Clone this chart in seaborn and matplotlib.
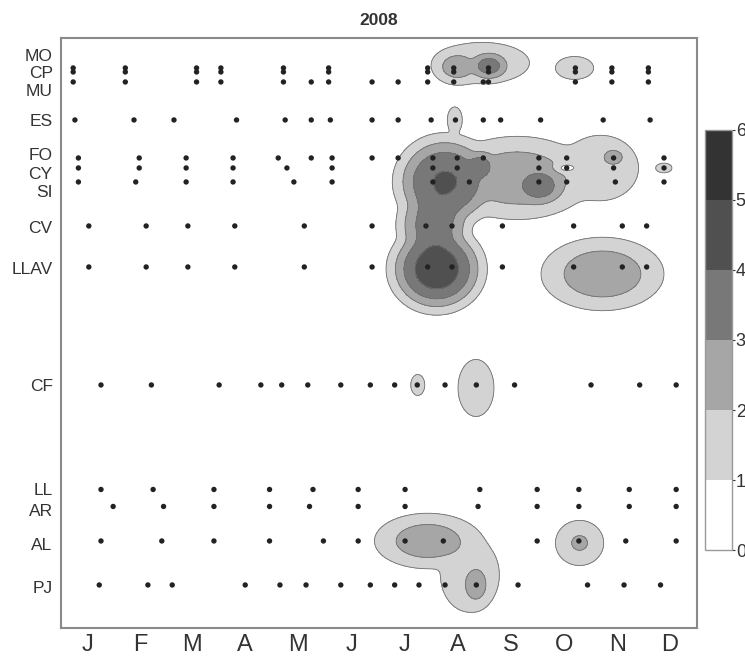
import numpy as np
import pandas as pd
import matplotlib
matplotlib.use("Agg")
import matplotlib.pyplot as plt
import seaborn as sns

sns.set_style("white")
plt.rcParams['font.family'] = ['Liberation Sans', 'DejaVu Sans']

# ---- stations (y axis) ----
station_labels = ["MO", "CP", "MU", "ES", "FO", "CY", "SI", "CV", "LLAV", "CF", "LL", "AR", "AL", "PJ"]
label_pos = [55, 72, 90, 120, 154, 173, 191, 227, 268, 385, 489, 510, 544, 587]
row_pos = [68, 72, 82, 120, 158, 168, 182, 226, 267, 385, 489.5, 506.5, 541, 585]

# ---- sampling days (day of year 2008) per station ----
days_MO = [7, 37, 78, 92, 128, 154, 211, 226, 246, 296, 317, 338]
days_CP = [7, 37, 78, 92, 128, 154, 211, 226, 246, 296, 317, 338]
days_MU = [7, 37, 78, 92, 128, 144, 154, 179, 194, 211, 226, 243, 246, 296, 317, 338]
days_ES = [8, 42, 65, 101, 129, 144, 155, 179, 194, 213, 227, 243, 253, 276, 312, 339]
days_FO = [10, 45, 72, 99, 125, 144, 156, 179, 194, 214, 228, 243, 275, 291, 318, 347]
days_CY = [10, 45, 72, 99, 130, 156, 214, 228, 275, 291, 318, 347]
days_SI = [10, 43, 72, 99, 134, 156, 214, 235, 275, 291, 319, 347]
days_CV = [16, 49, 73, 100, 140, 179, 210, 225, 254, 295, 323, 337]
days_LLAV = [16, 49, 73, 100, 140, 179, 211, 225, 254, 295, 323, 337]
days_CF = [23, 52, 91, 115, 127, 142, 161, 178, 192, 205, 221, 239, 261, 305, 333, 354]
days_LL = [23, 53, 88, 120, 145, 171, 198, 241, 274, 298, 327, 354]
days_AR = [30, 59, 88, 120, 143, 171, 198, 240, 274, 298, 327, 354]
days_AL = [23, 58, 88, 120, 151, 171, 198, 220, 274, 298, 325, 354]
days_PJ = [22, 50, 64, 106, 126, 141, 161, 178, 192, 206, 221, 239, 263, 303, 324, 345]
station_days = [days_MO, days_CP, days_MU, days_ES, days_FO, days_CY, days_SI, days_CV,
                days_LLAV, days_CF, days_LL, days_AR, days_AL, days_PJ]

# ---- abundance peaks ----
peak_day = [216.2, 220.8, 214.5, 262.5, 275.2, 310.5, 318.0, 226.6, 346.9,
            246.3, 242.3, 227.8, 295.5, 311.6, 205.3, 238.8, 211.0, 238.8, 235.3, 298.4,
            241.5]
peak_pos = [269, 182, 225, 178, 186, 168, 157, 120, 168,
            66, 63, 67, 68, 274, 385, 388, 541, 585, 575, 543,
            166]
peak_val = [4.5, 4.05, 3.4, 2.5, 3.3, 1.7, 2.3, 1.5, 1.3,
            3.3, 1.6, 2.3, 1.6, 2.5, 1.4, 1.8, 2.4, 2.3, 1.6, 2.05,
            3.2]
spread_day = [20.2, 21.4, 16.2, 34.7, 12.1, 21.4, 6.4, 4.6, 5.8,
              9.8, 27.8, 11.6, 11.2, 28.9, 4.6, 9.8, 25.4, 7.5, 17.3, 12.3,
              7.5]
spread_pos = [32, 35, 30, 34, 16, 32, 8.5, 14, 6,
              12, 21, 15, 11.7, 30, 12, 27, 23, 19, 38, 20,
              13]
# local minimum (white eye)
dip_day, dip_pos, dip_depth, dip_sd, dip_sp = 291.1, 168, 0.7, 4.0, 3.0

months = ["J", "F", "M", "A", "M", "J", "J", "A", "S", "O", "N", "D"]
month_edges = [0, 31, 60, 91, 121, 152, 182, 213, 244, 274, 305, 335, 366]

levels = [0, 1, 2, 3, 4, 5, 6]
fill_colors = ['#ffffff', '#d3d3d3', '#a6a6a6', '#787878', '#505050', '#333333']

# ---- field ----
gx = np.linspace(0, 366, 500)
gy = np.linspace(38, 628, 500)
X, Y = np.meshgrid(gx, gy)
acc = np.zeros_like(X)
for d0, p0, a, sd, sp in zip(peak_day, peak_pos, peak_val, spread_day, spread_pos):
    d2 = ((X - d0) / sd) ** 2 + ((Y - p0) / sp) ** 2
    g = a * np.exp(-0.5 * d2 ** 1.5)
    acc += g ** 4
F = acc ** 0.25
F *= 1 - dip_depth * np.exp(-0.5 * (((X - dip_day) / dip_sd) ** 2 + ((Y - dip_pos) / dip_sp) ** 2))

fig = plt.figure(figsize=(7.45, 6.66), dpi=100)
ax = fig.add_axes([0.0819, 0.0571, 0.8537, 0.8859])

cf = ax.contourf(X, Y, F, levels=levels, colors=fill_colors, extend='neither')
ax.contour(X, Y, F, levels=[1, 2, 3, 4, 5], colors='#6f6f6f', linewidths=0.6)

rows = []
for name, pos, dl in zip(station_labels, row_pos, station_days):
    for d in dl:
        rows.append({"station": name, "day": d, "pos": pos})
df = pd.DataFrame(rows)
sns.scatterplot(data=df, x="day", y="pos", color="#222222", s=15, edgecolor="none",
                legend=False, ax=ax, zorder=5)

ax.set_xlim(0, 366)
ax.set_ylim(628, 38)
ax.set_xlabel("")
ax.set_ylabel("")

ax.set_yticks(label_pos)
ax.set_yticklabels(station_labels, fontsize=12.5, color='#333333')
ax.tick_params(axis='y', length=0, pad=6)

ax.set_xticks(month_edges)
ax.set_xticklabels([])
ax.set_xticks([(a + b) / 2 for a, b in zip(month_edges[:-1], month_edges[1:])], minor=True)
ax.set_xticklabels(months, minor=True, fontsize=17, color='#333333')
ax.tick_params(axis='x', which='major', direction='out', length=6, width=1.2, color='#777777')
ax.tick_params(axis='x', which='minor', length=0, pad=4)

for s in ax.spines.values():
    s.set_color('#8a8a8a')
    s.set_linewidth(1.5)
    s.set_visible(True)

ax.set_title("2008", fontweight='bold', fontsize=12.5, color='#333333', pad=9)

cax = fig.add_axes([0.946, 0.174, 0.036, 0.631])
cb = fig.colorbar(cf, cax=cax, ticks=levels)
cb.outline.set_edgecolor('#999999')
cb.outline.set_linewidth(1)
cax.tick_params(labelsize=13, colors='#333333', length=2, width=0.8, pad=1)
for t in cax.get_yticklabels():
    t.set_color('#333333')

fig.savefig("out.png", dpi=100)
